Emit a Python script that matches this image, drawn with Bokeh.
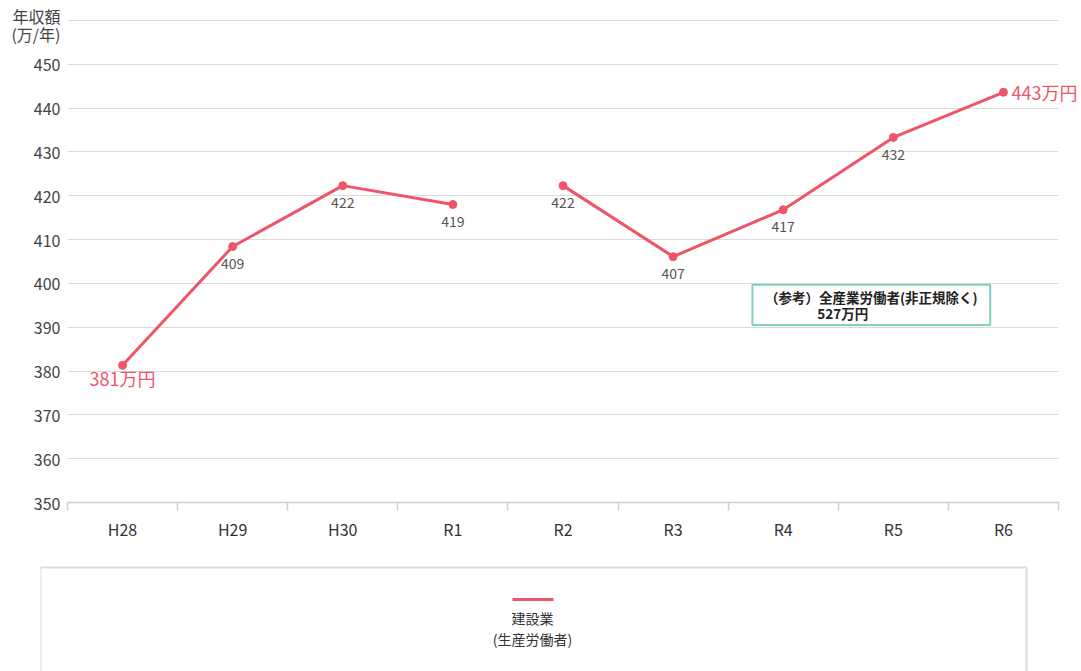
from bokeh.plotting import figure
from bokeh.models import Range1d, FixedTicker, ColumnDataSource, BoxAnnotation, Label
from bokeh.layouts import column
from bokeh.embed import file_html
from bokeh.resources import INLINE
from bokeh.core.properties import value

# ---------------- data ----------------
categories = ["H28", "H29", "H30", "R1", "R2", "R3", "R4", "R5", "R6"]
income = [381.3, 408.4, 422.3, 418.0, 422.3, 406.1, 416.8, 433.3, 443.6]
point_labels = ["381万円", "409", "422", "419", "422", "407", "417", "432", "443万円"]
gap_after = "R1"
y_ticks = [350, 360, 370, 380, 390, 400, 410, 420, 430, 440, 450, 460]
y_label_ticks = [350, 360, 370, 380, 390, 400, 410, 420, 430, 440, 450]
series_name = ["建設業", "(生産労働者)"]
note_lines = ["（参考）全産業労働者(非正規除く)", "527万円"]
axis_title = ["年収額", "(万/年)"]
axis_title_at = [461.1, 457.0]

FONT = "Noto Sans CJK JP"
RED = "#F05468"
W = 1081

n = len(categories)
xs = [i + 0.5 for i in range(n)]

# frame spans pixels 40..1081, the category band 67..1058
PLOT_L, CAT_L, CAT_R = 40, 67, 1058
per = (CAT_R - CAT_L) / n
x_start = -(CAT_L - PLOT_L) / per
x_end = n + (W - CAT_R) / per

p = figure(width=W, height=560, output_backend="svg", toolbar_location=None,
           x_range=Range1d(x_start, x_end), y_range=Range1d(y_ticks[0], 463.4),
           min_border_left=PLOT_L, min_border_right=0, min_border_top=5, min_border_bottom=58)
p.outline_line_color = None
p.background_fill_color = "white"
p.border_fill_color = "white"

# x axis
p.xaxis.ticker = FixedTicker(ticks=xs, minor_ticks=list(range(n + 1)))
p.xaxis.bounds = (0, n)
p.xaxis.major_label_overrides = {x: c for x, c in zip(xs, categories)}
p.xaxis.major_tick_out = 0
p.xaxis.major_tick_in = 0
p.xaxis.minor_tick_out = 8
p.xaxis.minor_tick_in = 0
p.xaxis.minor_tick_line_color = "#cfcfcf"
p.xaxis.minor_tick_line_width = 1.5
p.xaxis.axis_line_color = "#cfcfcf"
p.xaxis.axis_line_width = 1.5
p.xaxis.major_label_text_font = FONT
p.xaxis.major_label_text_font_size = "16px"
p.xaxis.major_label_text_color = "#333333"
p.xaxis.major_label_standoff = 6

# y axis (the axis title is carried as the two top labels)
p.yaxis.ticker = FixedTicker(ticks=y_label_ticks + axis_title_at)
p.yaxis.major_label_overrides = {t: s for t, s in zip(axis_title_at, axis_title)}
p.yaxis.axis_line_color = None
p.yaxis.major_tick_line_color = None
p.yaxis.minor_tick_line_color = None
p.yaxis.major_tick_out = 0
p.yaxis.major_tick_in = 0
p.yaxis.major_label_standoff = -(CAT_L - PLOT_L) + 7
p.yaxis.major_label_text_font = FONT
p.yaxis.major_label_text_font_size = "16px"
p.yaxis.major_label_text_color = "#444444"

p.xgrid.visible = False
p.ygrid.ticker = FixedTicker(ticks=y_ticks)
p.ygrid.grid_line_color = "#dcdcdc"
p.ygrid.grid_line_width = 1.2

# keep grid lines inside the category band
p.add_layout(BoxAnnotation(right=0, fill_color="white", fill_alpha=1.0, line_color=None, level="underlay"))
p.add_layout(BoxAnnotation(left=n, fill_color="white", fill_alpha=1.0, line_color=None, level="underlay"))

# line with a break
b = categories.index(gap_after) + 1
p.line(xs[:b], income[:b], line_color=RED, line_width=3)
p.line(xs[b:], income[b:], line_color=RED, line_width=3)
p.scatter(xs, income, size=8, color=RED)

# inner data labels
src = ColumnDataSource(dict(x=xs[1:-1], y=income[1:-1], t=point_labels[1:-1]))
p.text("x", "y", "t", source=src, text_font=value(FONT), text_font_size="14px",
       text_color="#555555", text_align="center", text_baseline="middle", y_offset=17)

# end labels
p.add_layout(Label(x=xs[0], y=income[0], text=point_labels[0], text_font=FONT,
                   text_font_size="18px", text_color=RED, text_align="center",
                   text_baseline="middle", y_offset=-13))
p.add_layout(Label(x=xs[-1], y=income[-1], text=point_labels[-1], text_font=FONT,
                   text_font_size="18px", text_color=RED, text_align="left",
                   text_baseline="middle", x_offset=8))

# reference note box
p.add_layout(BoxAnnotation(left=6.22, right=8.38, bottom=390.5, top=399.66,
                           fill_color="white", fill_alpha=1.0,
                           line_color="#7fd0bf", line_width=2, line_alpha=1.0))
p.add_layout(Label(x=7.30, y=396.9, text=note_lines[0], text_font=FONT,
                   text_font_size="13.5px", text_font_style="bold", text_color="#222222",
                   text_align="center", text_baseline="middle"))
p.add_layout(Label(x=7.04, y=393.2, text=note_lines[1], text_font=FONT,
                   text_font_size="13.5px", text_font_style="bold", text_color="#222222",
                   text_align="center", text_baseline="middle"))

# legend panel (its frame is aligned with the main frame: pixels 40..1081)
LH = 111
lg = figure(width=W, height=LH, output_backend="svg", toolbar_location=None,
            x_range=Range1d(PLOT_L, W), y_range=Range1d(LH, 0),
            x_axis_type=None, y_axis_type=None, min_border=0,
            min_border_left=PLOT_L, min_border_right=0)
lg.outline_line_color = None
lg.grid.visible = False
lg.quad(left=[40], right=[1026], top=[7], bottom=[LH + 20], fill_color="white",
        line_color="#dddddd", line_width=2)
lg.line([512, 553], [39, 39], line_color=RED, line_width=3)
lg.text([532, 532], [57, 78], series_name, text_font=value(FONT), text_font_size="14px",
        text_color="#333333", text_align="center", text_baseline="middle")

layout = column(p, lg, spacing=0)
open("out.html", "w").write(file_html(layout, INLINE))
